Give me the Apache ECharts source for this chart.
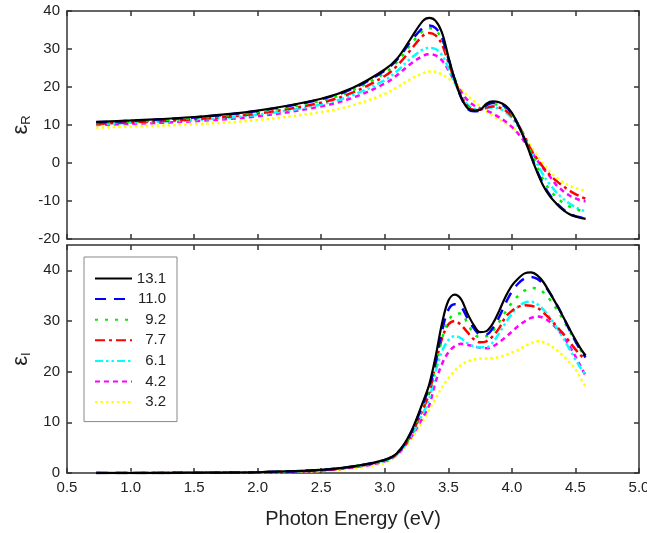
<!DOCTYPE html>
<html>
<head>
<meta charset="utf-8">
<script src="https://cdn.jsdelivr.net/npm/echarts@6/dist/echarts.min.js"></script>
<style>html,body{margin:0;padding:0;background:#fff}#c{width:647px;height:533px}</style>
</head>
<body>
<div id="c"></div>
<script>
// Photon energy grid (eV)
const energy = [0.73, 1.0, 1.5, 2.0, 2.5, 2.75, 3.0, 3.1, 3.2, 3.3, 3.35, 3.4, 3.45, 3.5, 3.55, 3.6, 3.65, 3.7, 3.75, 3.8, 3.85, 3.9, 3.95, 4.0, 4.05, 4.1, 4.15, 4.2, 4.25, 4.3, 4.35, 4.4, 4.45, 4.5, 4.55, 4.58];
const seriesNames = ['13.1', '11.0', '9.2', '7.7', '6.1', '4.2', '3.2'];
const xTicks = [0.5, 1.0, 1.5, 2.0, 2.5, 3.0, 3.5, 4.0, 4.5, 5.0];
const yTicksR = [-20, -10, 0, 10, 20, 30, 40];
const yTicksI = [0, 10, 20, 30, 40];

// epsilon_R (top panel)
const eR_131 = [10.8, 11.2, 12.1, 13.8, 16.9, 19.8, 24.6, 27.6, 32.5, 37.4, 38.2, 37.4, 34.3, 28.0, 22.0, 17.3, 14.5, 13.8, 14.0, 15.6, 16.2, 16.0, 15.1, 13.2, 10.0, 6.2, 1.8, -2.5, -6.2, -8.8, -10.7, -12.3, -13.4, -14.1, -14.5, -14.7];
const eR_110 = [10.7, 11.1, 12.0, 13.7, 16.8, 19.6, 24.3, 27.3, 31.8, 35.6, 36.2, 35.5, 33.0, 27.5, 22.0, 17.3, 14.3, 13.6, 13.8, 15.2, 15.8, 15.6, 14.8, 13.0, 10.0, 6.3, 2.0, -2.2, -5.8, -8.5, -10.5, -12.1, -13.3, -14.0, -14.4, -14.6];
const eR_92 = [10.5, 10.9, 11.8, 13.4, 16.4, 19.2, 23.7, 26.7, 31.0, 34.8, 35.5, 34.9, 32.6, 27.5, 22.3, 17.8, 14.8, 13.9, 14.0, 15.0, 15.5, 15.3, 14.5, 12.8, 10.2, 6.8, 2.8, -1.2, -4.6, -7.2, -9.0, -10.4, -11.4, -12.1, -12.6, -12.8];
const eR_77 = [10.3, 10.7, 11.5, 13.0, 15.9, 18.6, 22.9, 25.7, 29.6, 33.5, 34.2, 33.6, 31.2, 26.5, 21.8, 17.8, 15.0, 14.0, 14.0, 14.6, 14.9, 14.6, 13.8, 12.3, 10.0, 7.0, 3.5, 1.0, -1.3, -3.2, -4.7, -6.0, -7.2, -8.2, -9.0, -9.4];
const eR_61 = [10.2, 10.6, 11.3, 12.7, 15.4, 17.9, 21.8, 24.3, 27.4, 29.9, 30.3, 30.0, 28.4, 25.0, 21.2, 17.8, 15.4, 14.3, 14.1, 14.4, 14.6, 14.3, 13.4, 11.8, 9.5, 6.6, 3.2, -0.3, -3.3, -5.7, -7.7, -9.3, -10.6, -11.6, -12.4, -12.7];
const eR_42 = [10.0, 10.3, 11.0, 12.3, 14.9, 17.2, 20.9, 23.2, 26.0, 28.2, 28.6, 28.3, 27.0, 24.5, 21.5, 18.8, 16.6, 15.2, 14.4, 13.8, 13.0, 12.0, 10.9, 9.5, 7.7, 5.6, 3.2, 0.7, -1.6, -3.6, -5.8, -7.3, -8.5, -9.3, -9.9, -10.1];
const eR_32 = [9.3, 9.6, 10.2, 11.3, 13.4, 15.2, 18.2, 20.0, 22.0, 23.6, 24.1, 24.0, 23.3, 22.3, 21.0, 19.4, 17.8, 16.3, 14.9, 13.6, 12.4, 11.4, 10.4, 9.4, 8.3, 6.9, 4.5, 1.8, -0.4, -2.4, -3.9, -5.0, -5.9, -6.6, -7.1, -7.4];

// epsilon_I (bottom panel)
const eI_131 = [0.0, 0.0, 0.05, 0.15, 0.6, 1.3, 2.6, 4.0, 7.8, 14.0, 17.5, 23.0, 29.5, 34.0, 35.2, 34.3, 31.5, 29.2, 27.8, 28.0, 29.5, 32.0, 34.8, 37.0, 38.4, 39.4, 39.6, 39.0, 37.6, 35.5, 33.3, 31.0, 28.6, 26.3, 24.2, 23.2];
const eI_110 = [0.0, 0.0, 0.05, 0.15, 0.6, 1.3, 2.6, 4.0, 7.6, 13.6, 17.0, 22.0, 28.0, 32.2, 33.3, 32.8, 30.6, 28.6, 27.4, 27.4, 28.6, 30.8, 33.5, 35.8, 37.4, 38.4, 38.7, 38.3, 37.2, 35.5, 33.4, 31.0, 28.4, 26.0, 23.8, 22.8];
const eI_92 = [0.0, 0.0, 0.05, 0.15, 0.6, 1.3, 2.5, 3.9, 7.4, 13.0, 16.4, 21.0, 26.5, 30.0, 31.4, 31.5, 29.6, 27.5, 26.8, 27.0, 28.0, 29.8, 31.8, 33.6, 35.0, 36.0, 36.5, 36.4, 35.6, 34.2, 32.4, 30.4, 28.2, 26.0, 23.9, 22.9];
const eI_77 = [0.0, 0.0, 0.05, 0.15, 0.55, 1.2, 2.5, 3.9, 7.2, 12.6, 15.8, 21.5, 26.5, 29.3, 30.0, 29.2, 27.8, 26.4, 25.8, 26.0, 27.0, 28.6, 30.8, 32.0, 32.8, 33.1, 33.0, 32.6, 31.6, 30.4, 29.0, 27.6, 26.0, 24.4, 23.0, 22.4];
const eI_61 = [0.0, 0.0, 0.05, 0.15, 0.55, 1.2, 2.4, 3.8, 7.0, 11.8, 14.6, 20.0, 24.0, 26.2, 27.0, 26.6, 25.6, 25.0, 24.8, 24.8, 25.8, 27.6, 29.6, 31.4, 32.8, 33.6, 33.8, 33.3, 32.2, 30.6, 28.8, 26.8, 24.6, 22.4, 20.4, 19.4];
const eI_42 = [0.0, 0.0, 0.04, 0.12, 0.5, 1.1, 2.3, 3.7, 6.8, 11.0, 13.4, 18.0, 21.5, 23.8, 25.0, 25.5, 25.3, 25.0, 24.7, 24.6, 25.0, 25.8, 26.8, 27.9, 29.0, 29.9, 30.6, 30.9, 30.6, 29.8, 28.6, 27.1, 25.2, 23.0, 20.6, 19.2];
const eI_32 = [0.0, 0.0, 0.03, 0.1, 0.4, 0.9, 2.0, 3.6, 6.4, 10.3, 12.5, 14.7, 16.9, 18.7, 20.2, 21.3, 22.0, 22.4, 22.6, 22.6, 22.7, 22.9, 23.3, 23.8, 24.3, 25.0, 25.6, 26.0, 25.8, 25.2, 24.3, 23.2, 21.9, 20.5, 18.3, 17.1];

const topData = [eR_131, eR_110, eR_92, eR_77, eR_61, eR_42, eR_32];
const botData = [eI_131, eI_110, eI_92, eI_77, eI_61, eI_42, eI_32];

// styles
const styles = [
  { color: '#000000', width: 2.2, type: 'solid' },
  { color: '#0000ff', width: 2.5, type: [11, 8] },
  { color: '#00ee00', width: 2.5, type: [3, 7] },
  { color: '#ff0000', width: 2.5, type: [10, 4, 3, 4] },
  { color: '#00ffff', width: 2.5, type: [8, 3, 2.5, 3, 2.5, 3] },
  { color: '#ff00ff', width: 2.5, type: [5, 4] },
  { color: '#ffff00', width: 2.5, type: [2.5, 3] }
];

const FONT = 'Liberation Sans, Arial, sans-serif';
const axisLine = { show: true, onZero: false, lineStyle: { color: '#333', width: 1.5 } };
const tick = { show: true, inside: true, length: 5, lineStyle: { color: '#333', width: 1.5 } };

function xAx(grid, pos, showLabel, extra) {
  return Object.assign({
    type: 'value', gridIndex: grid, position: pos, min: 0.5, max: 5.0, interval: 0.5,
    axisLine: axisLine, axisTick: tick, splitLine: { show: false },
    axisLabel: {
      show: showLabel, fontSize: 15, color: '#222', fontFamily: FONT, margin: 7,
      formatter: v => (xTicks.indexOf(Math.round(v * 10) / 10) >= 0 ? v.toFixed(1) : '')
    }
  }, extra || {});
}
function yAx(grid, pos, showLabel, min, max, ticks, extra) {
  return Object.assign({
    type: 'value', gridIndex: grid, position: pos, min: min, max: max, interval: 10,
    axisLine: axisLine, axisTick: tick, splitLine: { show: false },
    axisLabel: {
      show: showLabel, fontSize: 15, color: '#222', fontFamily: FONT, margin: 7,
      showMaxLabel: ticks.indexOf(max) >= 0,
      formatter: v => (ticks.indexOf(v) >= 0 ? String(v) : '')
    }
  }, extra || {});
}

const series = [];
for (let i = 0; i < seriesNames.length; i++) {
  const st = styles[i];
  series.push({
    name: seriesNames[i], type: 'line', xAxisIndex: 0, yAxisIndex: 0,
    data: energy.map((x, j) => [x, topData[i][j]]),
    showSymbol: false, symbol: 'none', smooth: 0.35, z: 10 - i,
    lineStyle: { color: st.color, width: st.width, type: st.type },
    itemStyle: { color: st.color }
  });
}
for (let i = 0; i < seriesNames.length; i++) {
  const st = styles[i];
  series.push({
    name: seriesNames[i], type: 'line', xAxisIndex: 2, yAxisIndex: 2,
    data: energy.map((x, j) => [x, botData[i][j]]),
    showSymbol: false, symbol: 'none', smooth: 0.35, z: 10 - i,
    lineStyle: { color: st.color, width: st.width, type: st.type },
    itemStyle: { color: st.color }
  });
}

const nameRich = {
  e: { fontSize: 22, fontFamily: FONT, color: '#222' },
  s: { fontSize: 13, fontFamily: FONT, color: '#222', padding: [12, 0, 0, 0] }
};

const option = {
  animation: false,
  backgroundColor: '#ffffff',
  grid: [
    { left: 67, top: 11, width: 572, height: 228, containLabel: false, outerBoundsMode: 'none' },
    { left: 67, top: 245, width: 572, height: 228, containLabel: false, outerBoundsMode: 'none' }
  ],
  xAxis: [
    xAx(0, 'bottom', false),
    xAx(0, 'top', false),
    xAx(1, 'bottom', true, {
      name: 'Photon Energy (eV)', nameLocation: 'middle', nameGap: 36, nameMoveOverlap: false,
      nameTextStyle: { fontSize: 20, color: '#222', fontFamily: FONT }
    }),
    xAx(1, 'top', false)
  ],
  yAxis: [
    yAx(0, 'left', true, -20, 40, yTicksR, {
      name: '{e|ε}{s|R}', nameLocation: 'middle', nameGap: 34, nameRotate: 90, nameMoveOverlap: false,
      nameTextStyle: { rich: nameRich }
    }),
    yAx(0, 'right', false, -20, 40, yTicksR),
    yAx(1, 'left', true, 0, 45, yTicksI, {
      name: '{e|ε}{s|I}', nameLocation: 'middle', nameGap: 34, nameRotate: 90, nameMoveOverlap: false,
      nameTextStyle: { rich: nameRich }
    }),
    yAx(1, 'right', false, 0, 45, yTicksI)
  ],
  legend: {
    data: seriesNames,
    orient: 'vertical', left: 84, top: 257,
    padding: [14, 11, 12, 10],
    itemWidth: 37, itemHeight: 14, itemGap: 5.6,
    borderColor: '#888', borderWidth: 1, borderRadius: 0,
    backgroundColor: '#fff',
    selectedMode: false,
    itemStyle: { opacity: 0 },
    formatter: n => '{v|' + n + '}',
    textStyle: {
      fontSize: 15, color: '#222', fontFamily: FONT,
      rich: { v: { width: 29, align: 'right', fontSize: 15, fontFamily: FONT, color: '#222', lineHeight: 14 } }
    }
  },
  series: series
};

const chart = echarts.init(document.getElementById('c'), null, { renderer: 'canvas' });
chart.setOption(option);
</script>
</body>
</html>
